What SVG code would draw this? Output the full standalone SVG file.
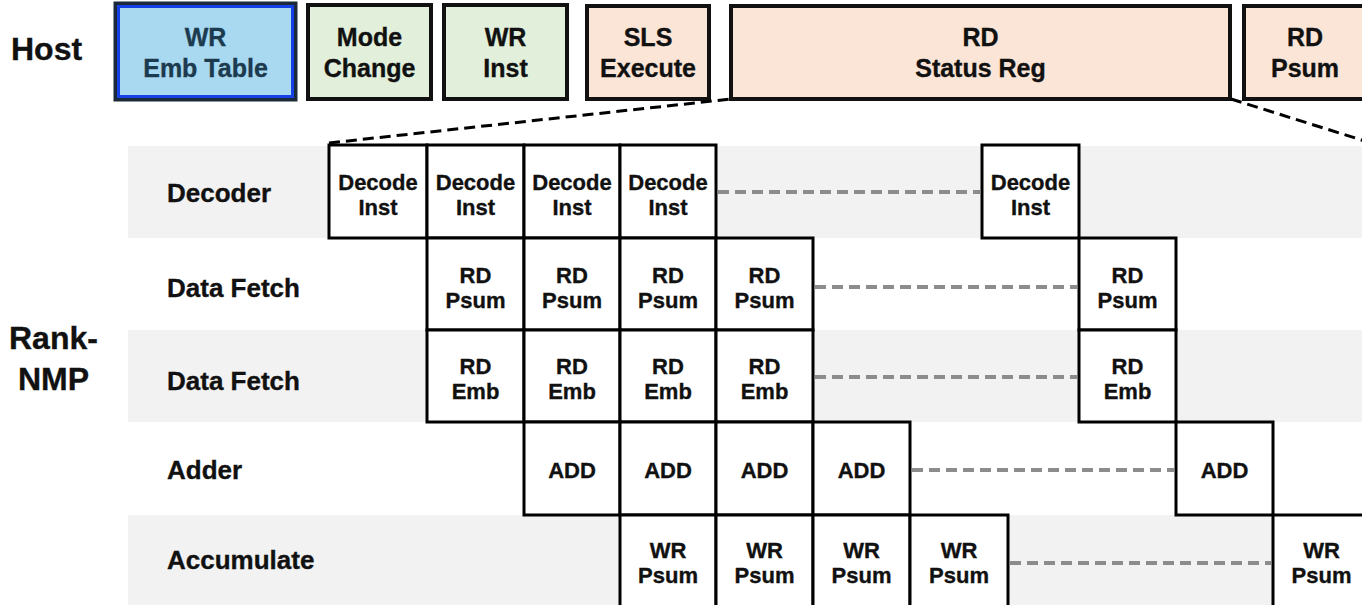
<svg xmlns="http://www.w3.org/2000/svg" width="1362" height="605" viewBox="0 0 1362 605">
  <style>
    text { font-family: "Liberation Sans", Arial, sans-serif; font-weight: bold; fill: #111; stroke: #111; stroke-width: 0.35; }
    .big { font-size: 32px; }
    .lbl { font-size: 26px; }
    .host { font-size: 25px; text-anchor: middle; }
    .cell { font-size: 22px; text-anchor: middle; }
    .navy { fill: #1d3b4f; stroke: #1d3b4f; }
    .band { fill: #f2f2f2; }
    .box { fill: #ffffff; stroke: #000; stroke-width: 3; }
    .green { fill: #e2efda; stroke: #111; stroke-width: 4; }
    .peach { fill: #fbe5d6; stroke: #111; stroke-width: 4; }
    .zoom { fill: none; stroke: #000; stroke-width: 3; stroke-dasharray: 11 6; }
    .skip { fill: none; stroke: #8c8c8c; stroke-width: 4; stroke-dasharray: 11 6; }
  </style>

  <!-- stage bands -->
  <rect class="band" x="128" y="146" width="1234" height="92"/>
  <rect class="band" x="128" y="330" width="1234" height="92"/>
  <rect class="band" x="128" y="515" width="1234" height="90"/>

  <!-- side labels -->
  <text class="big" x="11" y="60">Host</text>
  <text class="big" x="9" y="349">Rank-</text>
  <text class="big" x="18" y="390">NMP</text>

  <text class="lbl" x="167" y="202">Decoder</text>
  <text class="lbl" x="167" y="297">Data Fetch</text>
  <text class="lbl" x="167" y="390">Data Fetch</text>
  <text class="lbl" x="167" y="479">Adder</text>
  <text class="lbl" x="167" y="569">Accumulate</text>

  <!-- host command sequence -->
  <g id="host-wr-emb">
    <rect x="116" y="4" width="179" height="95" fill="#a8d9f1" stroke="#1a2a3a" stroke-width="5"/>
    <rect x="118.5" y="6.5" width="174" height="90" fill="none" stroke="#1540e6" stroke-width="3"/>
    <text class="host navy" x="205.5" y="46">WR</text>
    <text class="host navy" x="205.5" y="77">Emb Table</text>
  </g>
  <g id="host-mode">
    <rect class="green" x="308" y="5" width="123" height="94"/>
    <text class="host" x="369.5" y="46">Mode</text>
    <text class="host" x="369.5" y="77">Change</text>
  </g>
  <g id="host-wr-inst">
    <rect class="green" x="444" y="5" width="123" height="94"/>
    <text class="host" x="505.5" y="46">WR</text>
    <text class="host" x="505.5" y="77">Inst</text>
  </g>
  <g id="host-sls">
    <rect class="peach" x="587" y="6" width="122" height="93"/>
    <text class="host" x="648" y="46">SLS</text>
    <text class="host" x="648" y="77">Execute</text>
  </g>
  <g id="host-status">
    <rect class="peach" x="731" y="6" width="499" height="93"/>
    <text class="host" x="980.5" y="46">RD</text>
    <text class="host" x="980.5" y="77">Status Reg</text>
  </g>
  <g id="host-psum">
    <rect class="peach" x="1244" y="6" width="124" height="93"/>
    <text class="host" x="1305" y="46">RD</text>
    <text class="host" x="1305" y="77">Psum</text>
  </g>

  <!-- pipeline cells: decoder -->
  <g id="dec">
    <rect class="box" x="329" y="145" width="98" height="93"/>
    <text class="cell" x="378" y="190">Decode</text><text class="cell" x="378" y="215">Inst</text>
    <rect class="box" x="427" y="145" width="97" height="93"/>
    <text class="cell" x="475.5" y="190">Decode</text><text class="cell" x="475.5" y="215">Inst</text>
    <rect class="box" x="524" y="145" width="96" height="93"/>
    <text class="cell" x="572" y="190">Decode</text><text class="cell" x="572" y="215">Inst</text>
    <rect class="box" x="620" y="145" width="96" height="93"/>
    <text class="cell" x="668" y="190">Decode</text><text class="cell" x="668" y="215">Inst</text>
    <rect class="box" x="982" y="145" width="97" height="93"/>
    <text class="cell" x="1030.5" y="190">Decode</text><text class="cell" x="1030.5" y="215">Inst</text>
  </g>

  <!-- pipeline cells: partial-sum fetch -->
  <g id="fetch-psum">
    <rect class="box" x="427" y="238" width="97" height="92"/>
    <text class="cell" x="475.5" y="283">RD</text><text class="cell" x="475.5" y="308">Psum</text>
    <rect class="box" x="524" y="238" width="96" height="92"/>
    <text class="cell" x="572" y="283">RD</text><text class="cell" x="572" y="308">Psum</text>
    <rect class="box" x="620" y="238" width="96" height="92"/>
    <text class="cell" x="668" y="283">RD</text><text class="cell" x="668" y="308">Psum</text>
    <rect class="box" x="716" y="238" width="97" height="92"/>
    <text class="cell" x="764.5" y="283">RD</text><text class="cell" x="764.5" y="308">Psum</text>
    <rect class="box" x="1079" y="238" width="97" height="92"/>
    <text class="cell" x="1127.5" y="283">RD</text><text class="cell" x="1127.5" y="308">Psum</text>
  </g>

  <!-- pipeline cells: embedding fetch -->
  <g id="fetch-emb">
    <rect class="box" x="427" y="330" width="97" height="92"/>
    <text class="cell" x="475.5" y="374">RD</text><text class="cell" x="475.5" y="399">Emb</text>
    <rect class="box" x="524" y="330" width="96" height="92"/>
    <text class="cell" x="572" y="374">RD</text><text class="cell" x="572" y="399">Emb</text>
    <rect class="box" x="620" y="330" width="96" height="92"/>
    <text class="cell" x="668" y="374">RD</text><text class="cell" x="668" y="399">Emb</text>
    <rect class="box" x="716" y="330" width="97" height="92"/>
    <text class="cell" x="764.5" y="374">RD</text><text class="cell" x="764.5" y="399">Emb</text>
    <rect class="box" x="1079" y="330" width="97" height="92"/>
    <text class="cell" x="1127.5" y="374">RD</text><text class="cell" x="1127.5" y="399">Emb</text>
  </g>

  <!-- pipeline cells: adder -->
  <g id="adder">
    <rect class="box" x="524" y="422" width="96" height="93"/>
    <text class="cell" x="572" y="478">ADD</text>
    <rect class="box" x="620" y="422" width="96" height="93"/>
    <text class="cell" x="668" y="478">ADD</text>
    <rect class="box" x="716" y="422" width="97" height="93"/>
    <text class="cell" x="764.5" y="478">ADD</text>
    <rect class="box" x="813" y="422" width="97" height="93"/>
    <text class="cell" x="861.5" y="478">ADD</text>
    <rect class="box" x="1176" y="422" width="97" height="93"/>
    <text class="cell" x="1224.5" y="478">ADD</text>
  </g>

  <!-- pipeline cells: accumulate -->
  <g id="accum">
    <rect class="box" x="620" y="515" width="96" height="95"/>
    <text class="cell" x="668" y="558">WR</text><text class="cell" x="668" y="583">Psum</text>
    <rect class="box" x="716" y="515" width="97" height="95"/>
    <text class="cell" x="764.5" y="558">WR</text><text class="cell" x="764.5" y="583">Psum</text>
    <rect class="box" x="813" y="515" width="97" height="95"/>
    <text class="cell" x="861.5" y="558">WR</text><text class="cell" x="861.5" y="583">Psum</text>
    <rect class="box" x="910" y="515" width="98" height="95"/>
    <text class="cell" x="959" y="558">WR</text><text class="cell" x="959" y="583">Psum</text>
    <rect class="box" x="1273" y="515" width="97" height="95"/>
    <text class="cell" x="1321.5" y="558">WR</text><text class="cell" x="1321.5" y="583">Psum</text>
  </g>

  <!-- connectors -->
  <g id="connectors">
    <path class="zoom" d="M329,143 L731,99"/>
    <path class="zoom" d="M1231,99 L1368,142"/>
    <path class="skip" d="M718,192 H980"/>
    <path class="skip" d="M815,287 H1077"/>
    <path class="skip" d="M815,377 H1077"/>
    <path class="skip" d="M912,470 H1174"/>
    <path class="skip" d="M1010,563 H1271"/>
  </g>
</svg>
